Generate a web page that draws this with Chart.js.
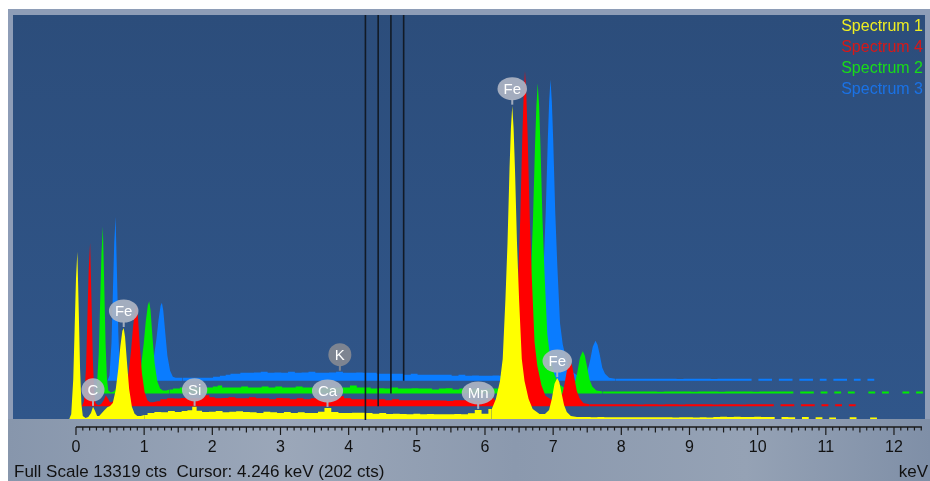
<!DOCTYPE html>
<html><head><meta charset="utf-8">
<script src="https://cdn.jsdelivr.net/npm/chart.js@4.4.1/dist/chart.umd.min.js"></script>
<style>html,body{margin:0;padding:0;background:#fff;}canvas{display:block;}</style>
</head><body>
<canvas id="c" width="930" height="481"></canvas>
<script>
// ---------- DATA (keV grid shared by all four spectra, counts per channel) ----------
const energyKeV = [
-0.10,-0.07,-0.04,-0.02,0.00,0.02,0.04,0.06,0.08,0.10,
0.14,0.18,0.22,0.25,0.28,0.31,0.34,0.38,0.42,0.46,
0.50,0.54,0.58,0.62,0.65,0.68,0.70,0.72,0.75,0.78,
0.82,0.86,0.90,0.95,1.00,1.10,1.20,1.30,1.40,1.50,
1.60,1.67,1.74,1.80,1.90,2.00,2.10,2.20,2.30,2.40,
2.50,2.60,2.70,2.80,2.90,3.00,3.10,3.20,3.31,3.40,
3.50,3.60,3.69,3.80,3.90,4.00,4.10,4.20,4.30,4.40,
4.50,4.60,4.70,4.80,4.90,5.00,5.10,5.20,5.30,5.40,
5.50,5.60,5.70,5.80,5.90,6.00,6.10,6.16,6.22,6.26,
6.30,6.33,6.36,6.38,6.40,6.42,6.44,6.47,6.50,6.54,
6.58,6.64,6.70,6.80,6.88,6.94,6.98,7.02,7.06,7.09,
7.12,7.16,7.20,7.26,7.35,7.50,7.60,7.70,7.80,7.90,
8.00,8.10,8.20,8.30,8.40,8.50,8.60,8.70,8.80,8.90,
9.00,9.10,9.20,9.30,9.40,9.50,9.60,9.70,9.80,9.90,
10.00,10.10,10.20,10.30,10.40,10.50,10.60,10.70,10.80,10.90,
11.00,11.10,11.20,11.30,11.40,11.50,11.60,11.70,11.80,11.90,
12.00,12.10,12.20,12.30,12.40
];
const spectrum1 = [
0,160,1320,2970,4620,5510,3630,1650,490,100,
30,70,200,400,260,100,100,200,300,390,
430,530,920,1650,2380,2900,3000,2700,1810,990,
400,170,100,100,130,200,230,220,260,230,
260,290,400,270,230,240,260,220,235,255,
230,225,200,235,225,200,230,195,225,200,
195,240,365,230,200,195,205,205,200,170,
195,165,175,165,160,170,160,165,155,160,
160,165,155,190,300,170,330,660,1250,1980,
3960,5780,8250,9570,10330,9570,8250,5780,3960,1980,
1250,660,330,165,165,300,660,1160,1350,1220,
890,460,230,100,70,66,60,66,60,60,
60,55,60,55,55,60,55,55,50,55,
55,50,55,50,70,75,70,75,70,70,
75,70,70,0,70,60,0,65,0,55,
0,50,0,0,55,0,0,50,0,0,
0,0,0,0,0
];
const spectrum4 = [
0,165,1250,2900,4520,5380,3560,1580,460,100,
33,66,200,360,264,130,130,230,330,430,
460,590,1020,1815,2610,3200,3330,3000,1980,1090,
460,200,130,130,165,230,265,255,270,260,
265,300,360,300,265,270,300,260,265,295,
265,260,230,270,260,235,265,230,260,235,
230,265,330,260,230,235,230,225,230,200,
230,200,195,200,195,200,195,190,170,195,
195,200,170,195,260,195,350,700,1340,2120,
4240,6180,8830,10240,11050,10240,8830,6180,4240,2120,
1340,700,350,200,180,330,730,1250,1490,1350,
990,500,265,100,70,66,66,66,66,66,
66,60,66,66,60,66,66,60,66,66,
66,66,60,66,66,66,60,66,66,66,
66,0,66,66,0,66,66,0,66,0,
66,0,66,0,0,0,0,0,0,0,
0,0,0,0,0
];
const spectrum2 = [
0,165,1320,2970,4620,5510,3630,1650,495,100,
33,66,165,330,231,100,100,200,264,330,
400,495,890,1650,2380,2900,3040,2740,1815,990,
400,165,100,100,132,165,200,198,200,198,
200,231,264,200,198,200,231,198,200,231,
198,231,198,200,231,198,200,165,198,200,
198,200,264,198,200,165,170,165,198,165,
165,170,165,165,132,165,170,132,165,132,
165,132,165,165,198,165,330,650,1240,1960,
3920,5720,8170,9470,10230,9470,8170,5720,3920,1960,
1240,650,330,165,165,297,690,1190,1390,1250,
925,460,231,100,66,66,66,66,66,66,
66,66,60,66,66,66,66,60,66,66,
66,60,66,66,66,66,60,66,66,66,
66,66,0,66,66,0,66,0,66,0,
66,0,0,66,0,66,0,0,66,0,
66,0,0,0,0
];
const spectrum3 = [
0,165,1250,2900,4550,5410,3560,1580,460,100,
33,66,165,300,198,100,100,165,231,297,
330,430,760,1390,2010,2475,2575,2310,1550,825,
330,132,100,100,100,100,100,100,100,132,
165,198,231,231,264,264,270,297,264,270,
264,297,264,270,297,264,264,270,300,264,
264,270,264,264,231,235,231,231,198,231,
198,200,198,198,200,165,198,165,170,165,
165,170,165,165,170,165,320,630,1200,1900,
3800,5550,7920,9190,9930,9190,7920,5550,3800,1900,
1200,630,320,165,165,297,660,1120,1320,1190,
890,430,231,100,66,66,66,66,66,66,
66,66,66,60,66,66,66,66,60,66,
66,66,66,66,0,66,66,0,66,66,
0,66,66,0,66,0,66,66,0,66,
0,66,0,0,0,0,0,0,0,0,
0,0,0,0,0
];
const seriesLabels = ['Spectrum 1','Spectrum 4','Spectrum 2','Spectrum 3'];
const tickLabels = ['0','1','2','3','4','5','6','7','8','9','10','11','12'];
const markerLabels = ['C','Fe','Si','Ca','K','Mn','Fe','Fe'];
const markerKeV    = [0.25,0.70,1.74,3.69,3.31,5.90,6.40,7.06];
const markerSeries = [0,0,0,0,3,0,0,0];
const FULL_SCALE = 13319;
const CURSOR_KEV = 4.246;
const CURSOR_CTS = 202;

// ---------- presentation ----------
const OFFSET_KEV = 0.187, OFFSET_CTS = 420;   // waterfall shift per spectrum
const X_MIN = -0.924, X_MAX = 12.455;
const seriesColors = ['#ffff00','#ff0000','#00ee00','#0a7cff'];
const legendColors = ['#eeee22','#d81818','#18dd18','#1a72e6'];
const seriesCounts = [spectrum1, spectrum4, spectrum2, spectrum3];
// drawing segments: peaks drawn as smooth polygons, background / tail as channel steps
const segments = [[-0.10, 1.00, false], [1.00, 6.10, 'middle'], [6.10, 7.35, false], [7.35, 12.40, 'middle']];
const FONT = '"Liberation Sans", Arial, sans-serif';

const datasets = [];
seriesCounts.forEach((counts, k) => {
  segments.forEach(([from, to, step]) => {
    const i0 = energyKeV.indexOf(from), i1 = energyKeV.indexOf(to);
    datasets.push({
      label: seriesLabels[k],
      data: energyKeV.slice(i0, i1 + 1).map((e, j) => ({x: e + k * OFFSET_KEV, y: counts[i0 + j] + k * OFFSET_CTS})),
      backgroundColor: seriesColors[k],
      borderColor: 'rgba(0,0,0,0)',
      borderWidth: 0,
      pointRadius: 0,
      stepped: step,
      fill: {value: k * OFFSET_CTS}
    });
  });
});

const backgroundPlugin = {
  id: 'bg',
  beforeDraw(chart) {
    const {ctx, chartArea: a} = chart;
    ctx.save();
    ctx.fillStyle = '#ffffff'; ctx.fillRect(0, 0, 930, 481);
    ctx.fillStyle = '#8e9db7'; ctx.fillRect(8, 9, 922, 472);
    const g = ctx.createLinearGradient(8, 0, 930, 0);
    g.addColorStop(0, '#8796ac'); g.addColorStop(0.3, '#9ba7b9');
    g.addColorStop(0.55, '#8b99ae'); g.addColorStop(0.8, '#95a2b5'); g.addColorStop(1, '#7f8fa7');
    ctx.fillStyle = g; ctx.fillRect(8, a.bottom, 922, 481 - a.bottom);
    const pg = ctx.createLinearGradient(0, a.top, 0, a.bottom);
    pg.addColorStop(0, '#2c4d7b'); pg.addColorStop(1, '#30568a');
    ctx.fillStyle = pg; ctx.fillRect(a.left, a.top, a.right - a.left, a.bottom - a.top);
    ctx.restore();
  }
};

const overlayPlugin = {
  id: 'overlay',
  afterDatasetsDraw(chart) {
    const {ctx, chartArea: a} = chart;
    const xs = chart.scales.x, ys = chart.scales.y;
    ctx.save();
    // cursor lines
    ctx.strokeStyle = '#121a26'; ctx.lineWidth = 1.6;
    for (let k = 0; k < 4; k++) {
      const px = xs.getPixelForValue(CURSOR_KEV + k * OFFSET_KEV);
      const pyb = k === 0 ? a.bottom + 1 : ys.getPixelForValue(k * OFFSET_CTS);
      ctx.beginPath(); ctx.moveTo(px, a.top); ctx.lineTo(px, pyb); ctx.stroke();
    }
    // element markers
    ctx.font = '15px ' + FONT;
    ctx.textAlign = 'center'; ctx.textBaseline = 'middle';
    markerLabels.forEach((lab, m) => {
      const s = markerSeries[m];
      let idx = 0, best = 1e9;
      energyKeV.forEach((e, i) => { const d = Math.abs(e - markerKeV[m]); if (d < best) { best = d; idx = i; } });
      const px = xs.getPixelForValue(markerKeV[m] + s * OFFSET_KEV);
      const py = ys.getPixelForValue(seriesCounts[s][idx] + s * OFFSET_CTS);
      const cy = py - 17;
      const tw = ctx.measureText(lab).width;
      const w = Math.max(23, tw + 12), h = 23;
      const col = s === 3 ? 'rgba(128,134,146,0.96)' : 'rgba(172,180,195,0.93)';
      ctx.fillStyle = col;
      ctx.fillRect(px - 1, cy + h / 2 - 1, 2, py - (cy + h / 2));
      ctx.beginPath(); ctx.ellipse(px, cy, w / 2, h / 2, 0, 0, Math.PI * 2); ctx.fill();
      ctx.fillStyle = '#ffffff';
      ctx.fillText(lab, px, cy + 1);
    });
    ctx.restore();
  }
};

const axisPlugin = {
  id: 'axis',
  afterDraw(chart) {
    const {ctx} = chart;
    const xs = chart.scales.x;
    const yAxis = 427;
    ctx.save();
    ctx.strokeStyle = '#1a1a1a'; ctx.lineWidth = 1.6;
    ctx.beginPath(); ctx.moveTo(xs.getPixelForValue(0), yAxis); ctx.lineTo(xs.getPixelForValue(12.41), yAxis); ctx.stroke();
    ctx.lineWidth = 1.2;
    for (let i = 0; i <= 124; i++) {
      const px = xs.getPixelForValue(i / 10);
      const len = i % 10 === 0 ? 8 : (i % 5 === 0 ? 5.5 : 3.5);
      ctx.beginPath(); ctx.moveTo(px, yAxis); ctx.lineTo(px, yAxis + len); ctx.stroke();
    }
    ctx.fillStyle = '#111111';
    ctx.font = '16px ' + FONT;
    ctx.textAlign = 'center'; ctx.textBaseline = 'alphabetic';
    tickLabels.forEach((t, i) => ctx.fillText(t, xs.getPixelForValue(i), 452));
    ctx.font = '17px ' + FONT;
    ctx.textAlign = 'left';
    ctx.fillText('Full Scale ' + FULL_SCALE + ' cts  Cursor: ' + CURSOR_KEV.toFixed(3) + ' keV (' + CURSOR_CTS + ' cts)', 14, 477);
    ctx.textAlign = 'right';
    ctx.fillText('keV', 928, 477);
    // legend
    ctx.font = '16px ' + FONT;
    ctx.textAlign = 'right';
    const base = [31, 52, 72.5, 93.5];
    seriesLabels.forEach((lab, k) => { ctx.fillStyle = legendColors[k]; ctx.fillText(lab, 923, base[k]); });
    ctx.restore();
  }
};

new Chart(document.getElementById('c'), {
  type: 'line',
  data: {datasets},
  options: {
    responsive: false, animation: false, events: [],
    layout: {padding: {left: 13, right: 5, top: 15, bottom: 62}},
    scales: {
      x: {type: 'linear', min: X_MIN, max: X_MAX, display: false},
      y: {type: 'linear', min: 0, max: FULL_SCALE, display: false}
    },
    plugins: {legend: {display: false}, tooltip: {enabled: false}}
  },
  plugins: [backgroundPlugin, overlayPlugin, axisPlugin]
});
</script>
</body></html>
